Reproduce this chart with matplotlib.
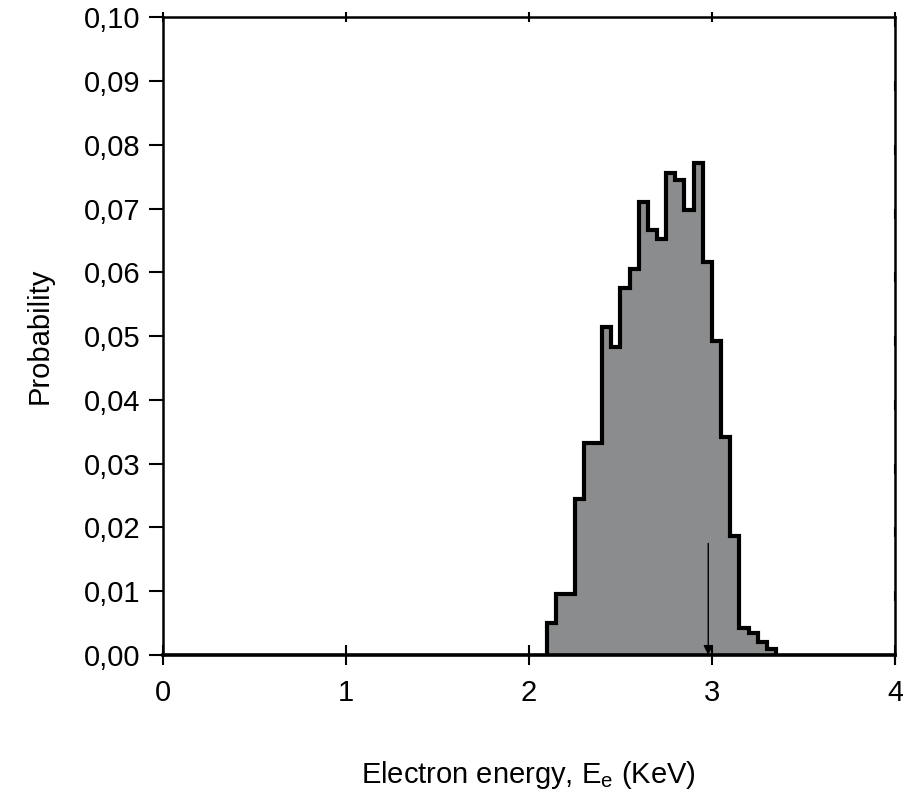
import numpy as np
import matplotlib.pyplot as plt

# bin edges (KeV) and probability per bin
edges = [2.10, 2.15, 2.20, 2.25, 2.30, 2.35, 2.40, 2.45, 2.50, 2.55, 2.60, 2.65,
         2.70, 2.75, 2.80, 2.85, 2.90, 2.95, 3.00, 3.05, 3.10, 3.15, 3.20, 3.25,
         3.30, 3.35]
probs = [0.0050, 0.0095, 0.0095, 0.0245, 0.0333, 0.0333, 0.0515, 0.0483, 0.0575,
         0.0606, 0.0711, 0.0666, 0.0653, 0.0756, 0.0745, 0.0698, 0.0772, 0.0617,
         0.0493, 0.0342, 0.0186, 0.0043, 0.0034, 0.0020, 0.0009]
arrow_x = 2.98
arrow_top = 0.0175

xticks = [0, 1, 2, 3, 4]
yticks = [0.00, 0.01, 0.02, 0.03, 0.04, 0.05, 0.06, 0.07, 0.08, 0.09, 0.10]

plt.rcParams['font.family'] = ['Liberation Sans', 'DejaVu Sans']

fig = plt.figure(figsize=(9.04, 7.92), dpi=100)
ax = fig.add_axes([0.180, 0.173, 0.810, 0.805])

ax.stairs(probs, edges, fill=True, facecolor='#8a8c8e', edgecolor='none')
ax.stairs(probs, edges, color='black', linewidth=3.0)

ax.annotate('', xy=(arrow_x, 0), xytext=(arrow_x, arrow_top),
            arrowprops=dict(arrowstyle='-|>', lw=1.0, color='black',
                            mutation_scale=14, shrinkA=0, shrinkB=0))

ax.set_xlim(0, 4)
ax.set_ylim(0, 0.10)
ax.set_xticks(xticks)
ax.set_yticks(yticks)
ax.set_xticklabels([str(t) for t in xticks])
ax.set_yticklabels([f"{t:.2f}".replace('.', ',') for t in yticks])

for s in ax.spines.values():
    s.set_linewidth(1.8)
ax.spines['bottom'].set_linewidth(2.6)

ax.tick_params(axis='x', direction='inout', length=14, width=1.5, labelsize=21, pad=10)
ax.tick_params(axis='y', direction='out', length=10, width=1.5, labelsize=21, pad=6)
ax.tick_params(top=True, right=True)
for t in ax.xaxis.get_major_ticks():
    t.tick2line.set_markersize(7)
for t in ax.yaxis.get_major_ticks():
    t.tick2line.set_markersize(7)
    t.tick2line.set_marker(3)  # inward tick on right spine

ax.set_xlabel(r"Electron energy, E$_{\mathregular{e}}$ (KeV)", fontsize=21, labelpad=38)
ax.set_ylabel("Probability", fontsize=21, labelpad=22)

fig.savefig("out.png", dpi=100)
